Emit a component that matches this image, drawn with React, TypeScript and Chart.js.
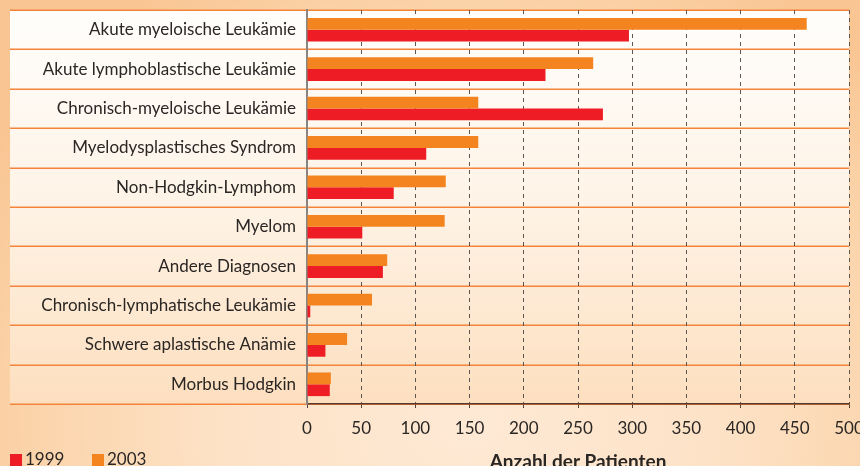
import React, { useEffect, useRef } from "react";
import { Chart, registerables } from "chart.js";

Chart.register(...registerables);

const categories = [
  "Akute myeloische Leukämie",
  "Akute lymphoblastische Leukämie",
  "Chronisch-myeloische Leukämie",
  "Myelodysplastisches Syndrom",
  "Non-Hodgkin-Lymphom",
  "Myelom",
  "Andere Diagnosen",
  "Chronisch-lymphatische Leukämie",
  "Schwere aplastische Anämie",
  "Morbus Hodgkin",
];
const values1999 = [297, 220, 273, 110, 80, 51, 70, 3, 17, 21];
const values2003 = [461, 264, 158, 158, 128, 127, 74, 60, 37, 22];
const seriesLabels = ["1999", "2003"];
const seriesColors = ["#ee1c25", "#f4841f"];
const xMin = 0;
const xMax = 500;
const xStep = 50;
const xTitle = "Anzahl der Patienten";

const CANVAS_W = 860;
const CANVAS_H = 480;
const FONT = "Lato, 'Open Sans', sans-serif";

const panelPlugin = {
  id: "panelBg",
  beforeDraw(chart: any) {
    const { ctx, chartArea, scales } = chart;
    const y = scales.y;
    const left = 10;
    const right = chartArea.right;
    const top = chartArea.top;
    const bottom = chartArea.bottom;
    ctx.save();
    const g = ctx.createLinearGradient(0, top, 0, bottom);
    g.addColorStop(0, "#fffefc");
    g.addColorStop(0.5, "#fef3e6");
    g.addColorStop(1, "#fddfbf");
    ctx.fillStyle = g;
    ctx.fillRect(left, top, right - left, bottom - top);
    ctx.strokeStyle = "#f4843a";
    ctx.lineWidth = 1.5;
    for (let i = 0; i <= categories.length; i++) {
      const py = Math.round(y.getPixelForValue(i - 0.5)) + 0.25;
      ctx.beginPath();
      ctx.moveTo(left, py);
      ctx.lineTo(right, py);
      ctx.stroke();
    }
    ctx.restore();
  },
};

export default function App() {
  const ref = useRef<HTMLCanvasElement | null>(null);

  useEffect(() => {
    if (!ref.current) return;
    const chart = new Chart(ref.current, {
      type: "bar",
      data: {
        labels: categories,
        datasets: [
          {
            label: seriesLabels[1],
            data: values2003,
            backgroundColor: seriesColors[1],
            borderWidth: 0,
          },
          {
            label: seriesLabels[0],
            data: values1999,
            backgroundColor: seriesColors[0],
            borderWidth: 0,
          },
        ],
      },
      options: {
        indexAxis: "y",
        responsive: false,
        animation: false,
        devicePixelRatio: 1,
        datasets: {
          bar: { categoryPercentage: 0.6, barPercentage: 1.0 },
        },
        layout: { padding: { top: 10, right: 11, left: 0, bottom: 0 } },
        plugins: {
          legend: { display: false },
          tooltip: { enabled: false },
        },
        scales: {
          x: {
            type: "linear",
            min: xMin,
            max: xMax,
            ticks: {
              stepSize: xStep,
              color: "#2a2624",
              font: { family: FONT, size: 17 },
              padding: 10,
              maxRotation: 0,
            },
            grid: {
              color: "#5c5550",
              lineWidth: 1,
              drawTicks: true,
              tickLength: 4,
              tickColor: "#5a4030",
            },
            border: {
              display: true,
              color: "#5a3a2c",
              width: 1.5,
              dash: [4, 4],
            },
            title: {
              display: true,
              text: xTitle,
              color: "#2a2624",
              font: { family: FONT, size: 19, weight: "bold" },
              padding: { top: 0, bottom: 7 },
            },
            afterFit(scale: any) {
              scale.height = CANVAS_H - 404;
              scale.paddingLeft = 0;
              scale.paddingRight = 0;
            },
          },
          y: {
            type: "category",
            ticks: {
              color: "#2a2624",
              font: { family: FONT, size: 17 },
              padding: 11,
              autoSkip: false,
            },
            grid: { display: false, drawTicks: false },
            border: { display: true, color: "#8a8480", width: 2 },
            afterFit(scale: any) {
              scale.width = 307;
              scale.paddingTop = 0;
              scale.paddingBottom = 0;
            },
          },
        },
      },
      plugins: [panelPlugin],
    });
    return () => chart.destroy();
  }, []);

  const legendOrder = [0, 1];
  const legendLeft = [10, 92];

  return (
    <div
      style={{
        position: "fixed",
        left: 0,
        top: 0,
        width: 860,
        height: 466,
        overflow: "hidden",
        background:
          "radial-gradient(ellipse 560px 520px at 470px 420px, #fee9d5 0%, #fde2c6 45%, #fbd3a9 80%, #f9c592 100%)",
      }}
    >
      <canvas
        ref={ref}
        width={CANVAS_W}
        height={CANVAS_H}
        style={{ position: "absolute", left: 0, top: 0, width: CANVAS_W, height: CANVAS_H }}
      />
      {legendOrder.map((si, k) => (
        <div
          key={si}
          style={{
            position: "absolute",
            left: legendLeft[k],
            top: 449,
            display: "flex",
            alignItems: "center",
            fontFamily: FONT,
            fontSize: 17,
            color: "#2a2624",
            lineHeight: "20px",
          }}
        >
          <span
            style={{
              display: "inline-block",
              width: 12,
              height: 12,
              background: seriesColors[si],
              marginRight: 3,
              marginTop: 1,
            }}
          />
          <span>{seriesLabels[si]}</span>
        </div>
      ))}
    </div>
  );
}
